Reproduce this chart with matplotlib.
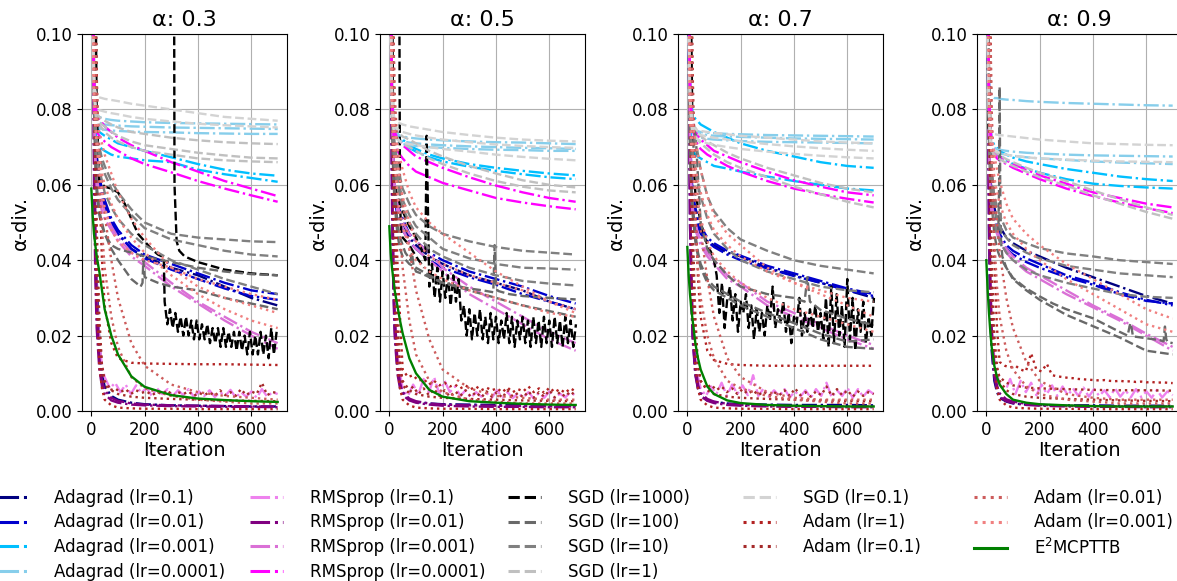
import numpy as np
import matplotlib.pyplot as plt
from matplotlib.lines import Line2D

# === data (alpha-divergence vs iteration) ===
alphas = [0.3, 0.5, 0.7, 0.9]
iters = [0, 5, 10, 15, 20, 30, 40, 50, 75, 100, 150, 200, 300, 400, 500, 600, 699]

# noisy stretches: a few early points, then evenly spaced samples up to the end
head_x = [0, 5, 10, 20, 30, 40]
tail_x = list(np.linspace(50, 699, 34))

# each setting: one entry per alpha panel, each a list of runs
adagrad_1e1 = [
    [[0.30, 0.15, 0.09, 0.075, 0.068, 0.062, 0.058, 0.055, 0.050, 0.047, 0.043, 0.041, 0.038, 0.036, 0.033, 0.030, 0.028],
     [0.30, 0.15, 0.08, 0.05, 0.035, 0.018, 0.010, 0.0065, 0.004, 0.003, 0.0022, 0.0018, 0.0015, 0.0014, 0.0013, 0.0012, 0.0012]],
    [[0.30, 0.13, 0.08, 0.065, 0.058, 0.054, 0.052, 0.050, 0.046, 0.044, 0.041, 0.039, 0.036, 0.034, 0.032, 0.029, 0.027],
     [0.30, 0.12, 0.06, 0.035, 0.022, 0.012, 0.007, 0.005, 0.003, 0.0024, 0.002, 0.0018, 0.0017, 0.0016, 0.0016, 0.0015, 0.0015]],
    [[0.30, 0.12, 0.075, 0.062, 0.057, 0.053, 0.050, 0.048, 0.045, 0.044, 0.042, 0.041, 0.038, 0.036, 0.034, 0.032, 0.030],
     [0.30, 0.10, 0.05, 0.03, 0.02, 0.010, 0.006, 0.004, 0.0028, 0.0024, 0.002, 0.0018, 0.0017, 0.0016, 0.0016, 0.0016, 0.0015]],
    [[0.30, 0.12, 0.07, 0.062, 0.058, 0.054, 0.051, 0.049, 0.046, 0.0445, 0.0425, 0.041, 0.038, 0.0355, 0.033, 0.0305, 0.0285],
     [0.30, 0.10, 0.045, 0.025, 0.016, 0.008, 0.005, 0.0035, 0.0025, 0.002, 0.0017, 0.0016, 0.0015, 0.0015, 0.0014, 0.0014, 0.0014]],
]
adagrad_1e2 = [
    [[0.30, 0.14, 0.085, 0.072, 0.066, 0.062, 0.059, 0.056, 0.051, 0.048, 0.044, 0.0415, 0.039, 0.0365, 0.034, 0.032, 0.031],
     [0.30, 0.14, 0.082, 0.07, 0.064, 0.060, 0.057, 0.054, 0.050, 0.047, 0.043, 0.0405, 0.0375, 0.035, 0.0325, 0.0305, 0.0295]],
    [[0.30, 0.13, 0.08, 0.066, 0.059, 0.055, 0.053, 0.051, 0.047, 0.045, 0.042, 0.040, 0.037, 0.035, 0.033, 0.0305, 0.0285],
     [0.30, 0.12, 0.075, 0.062, 0.056, 0.052, 0.050, 0.048, 0.045, 0.043, 0.040, 0.038, 0.0355, 0.0335, 0.031, 0.029, 0.027]],
    [[0.30, 0.12, 0.076, 0.063, 0.058, 0.054, 0.051, 0.049, 0.046, 0.0445, 0.0425, 0.0412, 0.0385, 0.0365, 0.0345, 0.0325, 0.031],
     [0.30, 0.12, 0.072, 0.06, 0.055, 0.052, 0.049, 0.047, 0.045, 0.0435, 0.0415, 0.040, 0.0378, 0.0358, 0.034, 0.032, 0.0305]],
    [[0.30, 0.12, 0.07, 0.06, 0.056, 0.052, 0.049, 0.047, 0.044, 0.0425, 0.0405, 0.039, 0.036, 0.034, 0.0315, 0.0295, 0.028],
     [0.30, 0.12, 0.068, 0.059, 0.055, 0.051, 0.048, 0.046, 0.043, 0.0415, 0.0395, 0.038, 0.0355, 0.0335, 0.031, 0.0292, 0.0285]],
]
adagrad_1e3 = [
    [[0.30, 0.12, 0.085, 0.079, 0.076, 0.074, 0.0735, 0.073, 0.072, 0.071, 0.070, 0.069, 0.0673, 0.0655, 0.064, 0.063, 0.0624],
     [0.30, 0.11, 0.08, 0.074, 0.072, 0.070, 0.0695, 0.069, 0.068, 0.0675, 0.067, 0.0665, 0.066, 0.064, 0.0628, 0.0618, 0.0608]],
    [[0.30, 0.12, 0.085, 0.078, 0.075, 0.0735, 0.0728, 0.072, 0.0705, 0.0695, 0.068, 0.067, 0.0655, 0.0645, 0.0637, 0.063, 0.0625],
     [0.30, 0.12, 0.083, 0.076, 0.074, 0.0725, 0.072, 0.0712, 0.0698, 0.0688, 0.0673, 0.0662, 0.0648, 0.0637, 0.0628, 0.062, 0.0615]],
    [[0.30, 0.12, 0.088, 0.082, 0.079, 0.0775, 0.0768, 0.076, 0.075, 0.074, 0.0725, 0.071, 0.069, 0.0675, 0.066, 0.065, 0.0645],
     [0.30, 0.10, 0.078, 0.072, 0.069, 0.068, 0.0675, 0.067, 0.066, 0.065, 0.0643, 0.0635, 0.0622, 0.061, 0.060, 0.059, 0.0585]],
    [[0.30, 0.12, 0.085, 0.076, 0.072, 0.0705, 0.0698, 0.069, 0.068, 0.0672, 0.0662, 0.0655, 0.0642, 0.0632, 0.0622, 0.0615, 0.061],
     [0.30, 0.11, 0.08, 0.072, 0.069, 0.0685, 0.068, 0.0675, 0.0665, 0.0655, 0.0643, 0.0632, 0.0615, 0.0603, 0.0597, 0.0593, 0.059]],
]
adagrad_1e4 = [
    [[0.30, 0.12, 0.09, 0.082, 0.079, 0.078, 0.0777, 0.0775, 0.0772, 0.077, 0.0768, 0.0766, 0.0764, 0.0763, 0.0762, 0.0761, 0.076],
     [0.30, 0.12, 0.088, 0.08, 0.0775, 0.0765, 0.0762, 0.076, 0.0758, 0.0757, 0.0755, 0.0754, 0.0752, 0.0751, 0.075, 0.0749, 0.0748],
     [0.30, 0.12, 0.086, 0.078, 0.076, 0.075, 0.0748, 0.0746, 0.0744, 0.0743, 0.0741, 0.074, 0.0739, 0.0737, 0.0736, 0.0735, 0.0735]],
    [[0.30, 0.12, 0.085, 0.078, 0.075, 0.0735, 0.073, 0.0728, 0.0725, 0.0723, 0.072, 0.0718, 0.0715, 0.0713, 0.0712, 0.071, 0.0708],
     [0.30, 0.12, 0.083, 0.076, 0.0735, 0.0722, 0.0718, 0.0715, 0.0712, 0.071, 0.0707, 0.0705, 0.0702, 0.070, 0.0698, 0.0697, 0.0695],
     [0.30, 0.12, 0.082, 0.075, 0.0725, 0.0715, 0.0711, 0.0708, 0.0705, 0.0703, 0.070, 0.0698, 0.0695, 0.0693, 0.0692, 0.069, 0.069]],
    [[0.30, 0.12, 0.085, 0.078, 0.0755, 0.0745, 0.0742, 0.074, 0.0738, 0.0737, 0.0735, 0.0734, 0.0732, 0.0731, 0.073, 0.0729, 0.0728],
     [0.30, 0.12, 0.083, 0.077, 0.0748, 0.074, 0.0737, 0.0735, 0.0732, 0.073, 0.0728, 0.0727, 0.0725, 0.0723, 0.0722, 0.0721, 0.072],
     [0.30, 0.12, 0.082, 0.076, 0.074, 0.073, 0.0727, 0.0725, 0.0722, 0.072, 0.0718, 0.0716, 0.0714, 0.0713, 0.0712, 0.0711, 0.071]],
    [[0.30, 0.10, 0.088, 0.085, 0.0835, 0.083, 0.083, 0.0828, 0.0826, 0.0825, 0.0822, 0.082, 0.0817, 0.0815, 0.0813, 0.0811, 0.081],
     [0.30, 0.10, 0.08, 0.073, 0.0705, 0.0698, 0.0695, 0.0693, 0.069, 0.0688, 0.0685, 0.0683, 0.068, 0.0678, 0.0677, 0.0676, 0.0675],
     [0.30, 0.10, 0.079, 0.072, 0.0695, 0.0688, 0.0685, 0.0683, 0.068, 0.0677, 0.0673, 0.067, 0.0666, 0.0662, 0.0659, 0.0657, 0.0655]],
]

rmsprop_1e1 = [
    [(head_x + tail_x, [0.30, 0.15, 0.07, 0.03, 0.018, 0.012] +
      [0.009, 0.006, 0.0075, 0.005, 0.007, 0.0045, 0.0068, 0.0048, 0.0062, 0.004, 0.006, 0.0045, 0.0058, 0.004, 0.0055, 0.0042, 0.0058,
       0.0038, 0.0052, 0.004, 0.0055, 0.0037, 0.005, 0.004, 0.0056, 0.0036, 0.005, 0.0038, 0.0052, 0.0035, 0.0058, 0.0038, 0.005, 0.0045])],
    [(head_x + tail_x, [0.30, 0.14, 0.06, 0.025, 0.015, 0.010] +
      [0.006, 0.004, 0.007, 0.0045, 0.0085, 0.005, 0.009, 0.0045, 0.008, 0.005, 0.0065, 0.004, 0.0055, 0.0035, 0.005, 0.0038, 0.0048,
       0.0035, 0.0055, 0.0036, 0.005, 0.0034, 0.0047, 0.0036, 0.005, 0.0033, 0.0048, 0.0035, 0.0052, 0.0034, 0.0046, 0.0036, 0.005, 0.004])],
    [(head_x + tail_x, [0.30, 0.12, 0.05, 0.022, 0.014, 0.009] +
      [0.006, 0.004, 0.0065, 0.0045, 0.0075, 0.004, 0.007, 0.0045, 0.0068, 0.0042, 0.0095, 0.004, 0.006, 0.0038, 0.0055, 0.004, 0.0058,
       0.0036, 0.0052, 0.0038, 0.0055, 0.0035, 0.0058, 0.004, 0.0075, 0.0036, 0.0055, 0.004, 0.0062, 0.0035, 0.0058, 0.0038, 0.0055, 0.0045])],
    [(head_x + tail_x, [0.30, 0.12, 0.05, 0.022, 0.014, 0.010] +
      [0.007, 0.005, 0.0085, 0.0045, 0.008, 0.005, 0.0075, 0.0042, 0.007, 0.0045, 0.0068, 0.004, 0.0065, 0.0042, 0.006, 0.004, 0.0062,
       0.0038, 0.0058, 0.004, 0.0055, 0.0036, 0.006, 0.0038, 0.0055, 0.0036, 0.0058, 0.0037, 0.0052, 0.0035, 0.0056, 0.0036, 0.0052, 0.0042])],
]
rmsprop_1e2 = [
    [[0.30, 0.12, 0.06, 0.035, 0.022, 0.011, 0.0065, 0.0045, 0.0028, 0.0022, 0.0017, 0.0015, 0.0013, 0.0012, 0.0011, 0.0011, 0.001],
     [0.30, 0.13, 0.07, 0.042, 0.028, 0.014, 0.008, 0.0055, 0.0035, 0.0027, 0.002, 0.0017, 0.0015, 0.0014, 0.0013, 0.0012, 0.0012]],
    [[0.30, 0.11, 0.055, 0.032, 0.02, 0.010, 0.006, 0.0042, 0.0028, 0.0022, 0.0017, 0.0014, 0.0012, 0.0011, 0.0011, 0.001, 0.001],
     [0.30, 0.12, 0.065, 0.04, 0.026, 0.013, 0.0075, 0.005, 0.0033, 0.0026, 0.002, 0.0017, 0.0015, 0.0014, 0.0013, 0.0012, 0.0012]],
    [[0.30, 0.11, 0.05, 0.03, 0.019, 0.0095, 0.0058, 0.004, 0.0027, 0.0021, 0.0016, 0.0014, 0.0012, 0.0011, 0.0011, 0.001, 0.001],
     [0.30, 0.12, 0.06, 0.037, 0.024, 0.012, 0.007, 0.0048, 0.0032, 0.0025, 0.0019, 0.0016, 0.0014, 0.0013, 0.0012, 0.0012, 0.0012]],
    [[0.30, 0.11, 0.05, 0.028, 0.018, 0.009, 0.0055, 0.0038, 0.0026, 0.0021, 0.0016, 0.0014, 0.0012, 0.0011, 0.0011, 0.001, 0.001],
     [0.30, 0.12, 0.058, 0.035, 0.022, 0.011, 0.0068, 0.0047, 0.0031, 0.0025, 0.0019, 0.0016, 0.0014, 0.0013, 0.0012, 0.0012, 0.0012]],
]
rmsprop_1e3 = [
    [[0.30, 0.14, 0.08, 0.068, 0.062, 0.058, 0.055, 0.053, 0.049, 0.046, 0.042, 0.0395, 0.034, 0.029, 0.025, 0.021, 0.018],
     [0.30, 0.13, 0.078, 0.066, 0.06, 0.056, 0.053, 0.051, 0.048, 0.045, 0.041, 0.0385, 0.033, 0.0285, 0.024, 0.020, 0.0165]],
    [[0.30, 0.13, 0.08, 0.065, 0.058, 0.053, 0.050, 0.048, 0.045, 0.043, 0.040, 0.037, 0.031, 0.027, 0.023, 0.019, 0.016],
     [0.30, 0.13, 0.082, 0.067, 0.06, 0.055, 0.052, 0.050, 0.047, 0.045, 0.042, 0.038, 0.033, 0.029, 0.025, 0.021, 0.018]],
    [[0.30, 0.12, 0.07, 0.058, 0.052, 0.048, 0.046, 0.044, 0.041, 0.039, 0.035, 0.033, 0.028, 0.025, 0.022, 0.019, 0.0165],
     [0.30, 0.12, 0.072, 0.06, 0.054, 0.05, 0.047, 0.045, 0.042, 0.040, 0.036, 0.034, 0.029, 0.026, 0.023, 0.020, 0.0175]],
    [[0.30, 0.12, 0.07, 0.058, 0.053, 0.049, 0.047, 0.045, 0.042, 0.040, 0.037, 0.035, 0.031, 0.0275, 0.024, 0.020, 0.016],
     [0.30, 0.12, 0.072, 0.06, 0.055, 0.051, 0.048, 0.046, 0.043, 0.041, 0.038, 0.036, 0.032, 0.028, 0.0245, 0.0205, 0.017]],
]
rmsprop_1e4 = [
    [[0.30, 0.12, 0.09, 0.082, 0.079, 0.0775, 0.0765, 0.0755, 0.074, 0.0725, 0.0705, 0.069, 0.066, 0.0635, 0.061, 0.059, 0.057],
     [0.30, 0.11, 0.08, 0.076, 0.074, 0.073, 0.0722, 0.0715, 0.070, 0.069, 0.067, 0.0655, 0.0633, 0.061, 0.059, 0.0572, 0.0555]],
    [[0.30, 0.12, 0.085, 0.077, 0.074, 0.0725, 0.0715, 0.0705, 0.069, 0.0675, 0.066, 0.0645, 0.062, 0.0598, 0.058, 0.0565, 0.0555],
     [0.30, 0.12, 0.083, 0.074, 0.071, 0.069, 0.068, 0.067, 0.065, 0.0635, 0.062, 0.0605, 0.0585, 0.0565, 0.0553, 0.0543, 0.0535]],
    [[0.30, 0.12, 0.088, 0.08, 0.077, 0.074, 0.073, 0.072, 0.0705, 0.069, 0.0675, 0.066, 0.0635, 0.0612, 0.0595, 0.058, 0.0572],
     [0.30, 0.12, 0.085, 0.078, 0.075, 0.072, 0.0705, 0.0695, 0.068, 0.067, 0.065, 0.0635, 0.061, 0.059, 0.0575, 0.0563, 0.0553]],
    [[0.30, 0.12, 0.085, 0.076, 0.071, 0.069, 0.068, 0.0675, 0.0665, 0.0655, 0.064, 0.0625, 0.0603, 0.058, 0.0565, 0.055, 0.054],
     [0.30, 0.12, 0.083, 0.074, 0.070, 0.068, 0.067, 0.0665, 0.0655, 0.0645, 0.063, 0.0615, 0.059, 0.057, 0.0553, 0.0538, 0.0525]],
]

sgd_1000_noise_a3 = [0.029, 0.023, 0.027, 0.022, 0.026, 0.021, 0.025, 0.020, 0.025, 0.020, 0.024, 0.019, 0.024, 0.019, 0.023,
                     0.019, 0.023, 0.018, 0.022, 0.018, 0.022, 0.017, 0.022, 0.017, 0.021, 0.017, 0.021, 0.016, 0.021, 0.016,
                     0.020, 0.015, 0.021, 0.015, 0.020, 0.015, 0.021, 0.015, 0.020, 0.014, 0.022, 0.015, 0.021]
sgd_1000_noise_a5 = [0.073, 0.033, 0.039, 0.030, 0.038, 0.029, 0.037, 0.030, 0.036, 0.028, 0.036, 0.029, 0.035, 0.024, 0.028,
                     0.020, 0.027, 0.019, 0.026, 0.020, 0.027, 0.019, 0.025, 0.018, 0.026, 0.019, 0.025, 0.018, 0.024, 0.019,
                     0.026, 0.018, 0.025, 0.017, 0.024, 0.019, 0.025, 0.018, 0.024, 0.017, 0.025, 0.018, 0.024, 0.017, 0.025,
                     0.018, 0.024, 0.017, 0.025, 0.018, 0.024, 0.017, 0.025, 0.018, 0.024, 0.017, 0.023]
sgd_1000_noise_a7 = [0.040, 0.036, 0.026, 0.034, 0.022, 0.030, 0.033, 0.024, 0.031, 0.021, 0.029, 0.026, 0.031, 0.022, 0.028,
                     0.019, 0.027, 0.021, 0.026, 0.020, 0.028, 0.024, 0.033, 0.022, 0.027, 0.024, 0.029, 0.021, 0.026, 0.018,
                     0.025, 0.023, 0.030, 0.020, 0.026, 0.021, 0.027, 0.022, 0.028, 0.021, 0.026, 0.019, 0.030, 0.017, 0.033,
                     0.018, 0.031, 0.020, 0.028, 0.017, 0.035, 0.019, 0.030, 0.016, 0.027, 0.021, 0.029, 0.018, 0.025, 0.020, 0.030]
sgd_1000 = [
    [([0, 5, 10, 15, 20, 30, 50, 75, 100, 125, 150, 175, 200, 225, 250, 265, 272] + list(np.linspace(275, 695, 43)),
      [0.30, 0.25, 0.20, 0.12, 0.08, 0.061, 0.0595, 0.059, 0.058, 0.055, 0.051, 0.047, 0.045, 0.043, 0.0415, 0.041, 0.040] + sgd_1000_noise_a3),
     ([0, 300, 308, 312, 320, 330, 350, 400, 500, 600, 699],
      [0.5, 0.5, 0.2, 0.06, 0.045, 0.0425, 0.041, 0.0395, 0.0375, 0.0365, 0.036])],
    [([0, 10, 12, 15, 20, 30, 50, 75, 100, 120, 135] + list(np.linspace(140, 700, 57)),
      [0.5, 0.5, 0.1, 0.065, 0.06, 0.057, 0.053, 0.049, 0.046, 0.043, 0.040] + sgd_1000_noise_a5),
     ([0, 36, 38, 40, 45, 50, 75, 100, 130],
      [0.5, 0.5, 0.1, 0.055, 0.047, 0.046, 0.044, 0.041, 0.038])],
    [([0, 10, 15, 20, 30, 50, 75, 90] + list(np.linspace(100, 700, 61)),
      [0.5, 0.3, 0.1, 0.07, 0.058, 0.05, 0.044, 0.042] + sgd_1000_noise_a7)],
    [([0, 5, 8, 10, 12, 15, 699], [0.30, 0.12, 0.075, 0.12, 0.30, 0.5, 0.5])],
]
sgd_100 = [
    [[0.30, 0.15, 0.08, 0.065, 0.058, 0.052, 0.049, 0.047, 0.044, 0.043, 0.042, 0.041, 0.0395, 0.038, 0.037, 0.0363, 0.036],
     ([0, 5, 10, 20, 30, 50, 75, 100, 150, 185, 192, 195, 200, 250, 300, 400, 500, 600, 699],
      [0.30, 0.15, 0.08, 0.06, 0.053, 0.047, 0.043, 0.040, 0.035, 0.033, 0.034, 0.040, 0.0355, 0.034, 0.033, 0.032, 0.030, 0.0285, 0.027])],
    [([0, 5, 10, 20, 30, 40, 50, 60, 70, 80, 85, 90, 95, 100, 120, 150, 200, 250, 300, 350, 390, 395, 400, 405, 410, 450, 500, 600, 699],
      [0.30, 0.12, 0.08, 0.06, 0.05, 0.046, 0.044, 0.042, 0.041, 0.040, 0.042, 0.039, 0.038, 0.037, 0.0365, 0.0355, 0.034, 0.0332,
       0.0325, 0.032, 0.0315, 0.044, 0.034, 0.032, 0.0318, 0.031, 0.0305, 0.0300, 0.0296]),
     [0.30, 0.12, 0.075, 0.062, 0.055, 0.047, 0.043, 0.041, 0.039, 0.038, 0.036, 0.034, 0.032, 0.030, 0.028, 0.0265, 0.025]],
    [([0, 5, 10, 15, 20, 30, 40, 50, 75, 100, 150, 200, 300, 400, 440, 450, 460, 500, 600, 699],
      [0.30, 0.12, 0.08, 0.07, 0.068, 0.075, 0.062, 0.050, 0.043, 0.040, 0.036, 0.033, 0.031, 0.030, 0.029, 0.0355, 0.029, 0.0268, 0.0245, 0.0228]),
     [0.30, 0.12, 0.07, 0.06, 0.055, 0.047, 0.042, 0.039, 0.035, 0.033, 0.031, 0.029, 0.026, 0.0233, 0.0205, 0.0184, 0.019],
     [0.30, 0.12, 0.068, 0.058, 0.052, 0.045, 0.041, 0.038, 0.034, 0.032, 0.030, 0.028, 0.025, 0.022, 0.019, 0.017, 0.0165]],
    [([0, 5, 10, 20, 30, 40, 45, 48, 50, 52, 55, 60, 75, 100, 150, 200, 250, 300, 400, 450, 500, 530, 540, 545, 550, 600, 650, 665, 670, 675, 680, 699],
      [0.30, 0.15, 0.09, 0.065, 0.055, 0.05, 0.048, 0.06, 0.086, 0.06, 0.045, 0.041, 0.038, 0.0353, 0.0325, 0.0304, 0.0285, 0.027, 0.0246,
       0.0228, 0.021, 0.020, 0.0233, 0.022, 0.0198, 0.0193, 0.0188, 0.0185, 0.0224, 0.019, 0.0183, 0.018]),
     [0.30, 0.12, 0.08, 0.062, 0.055, 0.047, 0.043, 0.041, 0.038, 0.035, 0.032, 0.0295, 0.0255, 0.0225, 0.0195, 0.016, 0.015]],
]
sgd_10 = [
    [[0.30, 0.15, 0.09, 0.078, 0.072, 0.070, 0.067, 0.065, 0.061, 0.058, 0.0535, 0.050, 0.047, 0.046, 0.0455, 0.045, 0.0448],
     [0.30, 0.15, 0.088, 0.076, 0.071, 0.068, 0.065, 0.063, 0.059, 0.056, 0.052, 0.0485, 0.0455, 0.044, 0.0425, 0.0415, 0.041],
     [0.30, 0.14, 0.085, 0.073, 0.068, 0.064, 0.061, 0.058, 0.054, 0.051, 0.047, 0.044, 0.040, 0.0375, 0.035, 0.033, 0.031]],
    [[0.30, 0.12, 0.085, 0.075, 0.071, 0.066, 0.062, 0.059, 0.055, 0.052, 0.049, 0.047, 0.045, 0.0435, 0.0425, 0.042, 0.0415],
     [0.30, 0.12, 0.082, 0.073, 0.068, 0.063, 0.059, 0.056, 0.052, 0.049, 0.046, 0.043, 0.0405, 0.039, 0.038, 0.0378, 0.0375],
     [0.30, 0.12, 0.08, 0.07, 0.065, 0.06, 0.057, 0.054, 0.050, 0.047, 0.043, 0.041, 0.038, 0.036, 0.0345, 0.0338, 0.0333]],
    [[0.30, 0.12, 0.085, 0.078, 0.075, 0.072, 0.068, 0.064, 0.057, 0.053, 0.0485, 0.0455, 0.0425, 0.040, 0.0385, 0.0375, 0.0365],
     [0.30, 0.12, 0.08, 0.072, 0.068, 0.064, 0.060, 0.057, 0.051, 0.047, 0.043, 0.040, 0.037, 0.035, 0.033, 0.032, 0.0315]],
    [[0.30, 0.12, 0.08, 0.068, 0.062, 0.057, 0.054, 0.052, 0.048, 0.046, 0.0445, 0.0432, 0.0418, 0.041, 0.040, 0.0395, 0.039],
     [0.30, 0.12, 0.078, 0.065, 0.059, 0.054, 0.051, 0.049, 0.046, 0.044, 0.042, 0.0405, 0.0385, 0.0375, 0.0365, 0.036, 0.0355],
     [0.30, 0.10, 0.07, 0.06, 0.055, 0.05, 0.047, 0.045, 0.042, 0.040, 0.0375, 0.036, 0.034, 0.0325, 0.031, 0.0303, 0.030]],
]
sgd_1 = [
    [[0.30, 0.12, 0.09, 0.082, 0.079, 0.078, 0.0775, 0.077, 0.076, 0.0752, 0.074, 0.0735, 0.0725, 0.0718, 0.0713, 0.071, 0.0708],
     [0.30, 0.12, 0.088, 0.08, 0.078, 0.077, 0.076, 0.0755, 0.074, 0.073, 0.0715, 0.0705, 0.0695, 0.0685, 0.0678, 0.0672, 0.067],
     [0.30, 0.12, 0.086, 0.079, 0.077, 0.076, 0.075, 0.074, 0.0725, 0.0715, 0.070, 0.069, 0.068, 0.067, 0.0665, 0.0662, 0.066]],
    [[0.30, 0.12, 0.085, 0.078, 0.076, 0.0745, 0.0735, 0.0728, 0.072, 0.071, 0.069, 0.0675, 0.065, 0.063, 0.0612, 0.060, 0.0593],
     [0.30, 0.12, 0.083, 0.076, 0.074, 0.0725, 0.0715, 0.0708, 0.070, 0.069, 0.067, 0.0655, 0.063, 0.061, 0.0595, 0.0585, 0.058]],
    [[0.30, 0.12, 0.086, 0.08, 0.077, 0.075, 0.074, 0.073, 0.0715, 0.0705, 0.0685, 0.067, 0.0645, 0.0625, 0.0605, 0.059, 0.058],
     [0.30, 0.12, 0.085, 0.078, 0.075, 0.073, 0.072, 0.071, 0.0695, 0.068, 0.066, 0.0645, 0.062, 0.0595, 0.0575, 0.0555, 0.054]],
    [[0.30, 0.10, 0.08, 0.072, 0.070, 0.069, 0.0683, 0.0678, 0.0668, 0.066, 0.0645, 0.0632, 0.061, 0.0585, 0.0562, 0.054, 0.052],
     [0.30, 0.10, 0.079, 0.071, 0.069, 0.068, 0.0673, 0.0668, 0.0658, 0.065, 0.0635, 0.062, 0.0598, 0.0572, 0.055, 0.0528, 0.051]],
]
sgd_01 = [
    [[0.30, 0.10, 0.088, 0.085, 0.0835, 0.0832, 0.083, 0.0828, 0.0825, 0.0822, 0.0815, 0.081, 0.080, 0.079, 0.078, 0.0775, 0.077],
     [0.30, 0.10, 0.085, 0.081, 0.080, 0.0798, 0.0796, 0.0794, 0.079, 0.0787, 0.078, 0.0775, 0.0768, 0.0762, 0.0758, 0.0755, 0.0752]],
    [[0.30, 0.10, 0.085, 0.079, 0.0775, 0.0768, 0.0763, 0.076, 0.0755, 0.0752, 0.0746, 0.074, 0.0732, 0.0725, 0.072, 0.0717, 0.0715],
     [0.30, 0.10, 0.082, 0.077, 0.0755, 0.0748, 0.0743, 0.074, 0.0735, 0.0731, 0.0725, 0.072, 0.0713, 0.0707, 0.0703, 0.070, 0.0698],
     [0.30, 0.10, 0.08, 0.075, 0.073, 0.072, 0.0715, 0.0712, 0.0708, 0.0705, 0.070, 0.0695, 0.0688, 0.068, 0.0674, 0.0669, 0.0665]],
    [[0.30, 0.10, 0.085, 0.078, 0.0755, 0.0748, 0.0745, 0.0743, 0.074, 0.0738, 0.0734, 0.073, 0.0725, 0.072, 0.0715, 0.0712, 0.071],
     [0.30, 0.10, 0.083, 0.077, 0.0745, 0.0738, 0.0735, 0.0732, 0.0728, 0.0725, 0.072, 0.0715, 0.0708, 0.0702, 0.0697, 0.0693, 0.069],
     [0.30, 0.10, 0.082, 0.076, 0.0735, 0.0725, 0.072, 0.0716, 0.071, 0.0706, 0.070, 0.0695, 0.0688, 0.0682, 0.0677, 0.0673, 0.067]],
    [[0.30, 0.10, 0.08, 0.075, 0.0738, 0.0735, 0.0733, 0.0732, 0.073, 0.0728, 0.0724, 0.072, 0.0715, 0.071, 0.0708, 0.0706, 0.0705],
     [0.30, 0.10, 0.078, 0.072, 0.070, 0.069, 0.0688, 0.0685, 0.068, 0.0677, 0.0673, 0.067, 0.0667, 0.0664, 0.0662, 0.0661, 0.066]],
]

adam_bottom = [0.30, 0.20, 0.10, 0.05, 0.03, 0.012, 0.006, 0.003, 0.0015, 0.0009, 0.0007, 0.0006, 0.0006, 0.0005, 0.0005, 0.0005, 0.0005]
adam_1 = [
    [[0.30, 0.25, 0.18, 0.12, 0.09, 0.06, 0.04, 0.028, 0.018, 0.014, 0.0128, 0.0126, 0.0125, 0.0124, 0.0124, 0.0123, 0.0122],
     adam_bottom],
    [(head_x + tail_x, [0.30, 0.22, 0.15, 0.07, 0.04, 0.025] +
      [0.011, 0.009, 0.0095, 0.008, 0.0085, 0.007, 0.008, 0.0068, 0.0075, 0.0065, 0.007, 0.006, 0.0068, 0.0058, 0.0065, 0.0055, 0.0062,
       0.0055, 0.006, 0.005, 0.0062, 0.005, 0.0058, 0.0052, 0.0065, 0.005, 0.006, 0.0048, 0.0062, 0.005, 0.0058, 0.0048, 0.006, 0.0052]),
     adam_bottom],
    [[0.30, 0.25, 0.18, 0.12, 0.09, 0.055, 0.035, 0.025, 0.016, 0.0135, 0.0125, 0.0122, 0.012, 0.012, 0.012, 0.012, 0.012],
     adam_bottom],
    [(head_x + tail_x, [0.30, 0.22, 0.15, 0.07, 0.04, 0.022] +
      [0.013, 0.012, 0.0115, 0.012, 0.011, 0.0105, 0.0153, 0.011, 0.0105, 0.0125, 0.0095, 0.0092, 0.009, 0.0088, 0.0087, 0.0085, 0.0084,
       0.0083, 0.0082, 0.0081, 0.0082, 0.008, 0.0079, 0.008, 0.0078, 0.0079, 0.0077, 0.0078, 0.0076, 0.0077, 0.0075, 0.0076, 0.0075, 0.0074]),
     adam_bottom],
]
adam_smooth = [0.30, 0.20, 0.10, 0.06, 0.04, 0.02, 0.012, 0.008, 0.0055, 0.0045, 0.0038, 0.0035, 0.0032, 0.003, 0.0028, 0.0027, 0.0026]
adam_1e1 = [
    [(head_x + tail_x, [0.30, 0.20, 0.12, 0.05, 0.025, 0.012] +
      [0.007, 0.0055, 0.006, 0.005, 0.0058, 0.0045, 0.0055, 0.0048, 0.0052, 0.0042, 0.005, 0.0045, 0.0055, 0.004, 0.005, 0.0045, 0.0052,
       0.004, 0.0048, 0.0042, 0.005, 0.004, 0.0055, 0.0042, 0.005, 0.004, 0.0058, 0.0042, 0.0052, 0.0045, 0.0075, 0.0042, 0.005, 0.0048]),
     adam_smooth],
    [(head_x + tail_x, [0.30, 0.20, 0.12, 0.05, 0.025, 0.012] +
      [0.007, 0.005, 0.0065, 0.0045, 0.006, 0.0042, 0.0058, 0.004, 0.0055, 0.0038, 0.0052, 0.004, 0.0055, 0.0038, 0.005, 0.0036, 0.0052,
       0.0038, 0.005, 0.0035, 0.0055, 0.0038, 0.0048, 0.0036, 0.0052, 0.0035, 0.005, 0.0038, 0.0055, 0.0036, 0.005, 0.0038, 0.0052, 0.004]),
     adam_smooth],
    [(head_x + tail_x, [0.30, 0.20, 0.12, 0.05, 0.025, 0.012] +
      [0.008, 0.006, 0.007, 0.0055, 0.0065, 0.005, 0.006, 0.0045, 0.0058, 0.0045, 0.0055, 0.0042, 0.0052, 0.004, 0.005, 0.0042, 0.0055,
       0.004, 0.006, 0.0042, 0.005, 0.0038, 0.0052, 0.0042, 0.0065, 0.004, 0.0058, 0.0042, 0.0055, 0.0038, 0.0052, 0.004, 0.005, 0.0045]),
     adam_smooth],
    [[0.30, 0.20, 0.10, 0.05, 0.03, 0.016, 0.011, 0.009, 0.0075, 0.0068, 0.0062, 0.006, 0.0058, 0.0056, 0.0055, 0.0055, 0.0054],
     adam_smooth],
]
adam_1e2 = [
    [[0.30, 0.20, 0.12, 0.09, 0.075, 0.06, 0.048, 0.038, 0.025, 0.017, 0.009, 0.006, 0.004, 0.003, 0.0025, 0.002, 0.002],
     [0.30, 0.20, 0.13, 0.10, 0.085, 0.07, 0.06, 0.052, 0.04, 0.03, 0.018, 0.012, 0.007, 0.005, 0.004, 0.0035, 0.003]],
    [[0.30, 0.20, 0.12, 0.09, 0.075, 0.058, 0.047, 0.038, 0.024, 0.015, 0.008, 0.005, 0.003, 0.0025, 0.002, 0.002, 0.002],
     [0.30, 0.20, 0.13, 0.10, 0.085, 0.07, 0.062, 0.055, 0.043, 0.032, 0.019, 0.011, 0.006, 0.004, 0.0035, 0.003, 0.003]],
    [[0.30, 0.20, 0.12, 0.09, 0.07, 0.05, 0.038, 0.03, 0.02, 0.014, 0.008, 0.006, 0.004, 0.003, 0.0025, 0.002, 0.002],
     [0.30, 0.20, 0.13, 0.10, 0.082, 0.066, 0.056, 0.048, 0.035, 0.025, 0.014, 0.009, 0.005, 0.0035, 0.003, 0.003, 0.003]],
    [[0.30, 0.20, 0.12, 0.085, 0.065, 0.045, 0.033, 0.025, 0.016, 0.011, 0.0065, 0.0045, 0.003, 0.0025, 0.002, 0.002, 0.002],
     [0.30, 0.20, 0.13, 0.10, 0.08, 0.06, 0.05, 0.042, 0.03, 0.022, 0.013, 0.008, 0.0045, 0.0035, 0.003, 0.003, 0.003]],
]
adam_1e3 = [
    [[0.30, 0.12, 0.085, 0.08, 0.077, 0.074, 0.071, 0.068, 0.063, 0.058, 0.051, 0.046, 0.038, 0.033, 0.030, 0.028, 0.026],
     [0.30, 0.12, 0.082, 0.076, 0.072, 0.067, 0.063, 0.060, 0.055, 0.051, 0.046, 0.042, 0.036, 0.031, 0.027, 0.024, 0.022],
     [0.30, 0.11, 0.08, 0.075, 0.07, 0.064, 0.058, 0.054, 0.048, 0.045, 0.042, 0.040, 0.038, 0.035, 0.033, 0.031, 0.0295]],
    [[0.30, 0.12, 0.085, 0.078, 0.074, 0.070, 0.067, 0.064, 0.058, 0.054, 0.050, 0.047, 0.042, 0.037, 0.033, 0.029, 0.026],
     [0.30, 0.11, 0.08, 0.074, 0.070, 0.065, 0.061, 0.057, 0.050, 0.045, 0.041, 0.039, 0.036, 0.034, 0.032, 0.029, 0.027],
     [0.30, 0.11, 0.078, 0.07, 0.065, 0.058, 0.053, 0.049, 0.043, 0.040, 0.037, 0.035, 0.032, 0.030, 0.028, 0.026, 0.025]],
    [[0.30, 0.12, 0.085, 0.08, 0.076, 0.072, 0.068, 0.064, 0.057, 0.052, 0.047, 0.044, 0.038, 0.034, 0.031, 0.028, 0.025],
     [0.30, 0.11, 0.08, 0.074, 0.07, 0.065, 0.061, 0.058, 0.052, 0.048, 0.044, 0.041, 0.037, 0.034, 0.032, 0.030, 0.029],
     [0.30, 0.11, 0.078, 0.07, 0.065, 0.059, 0.055, 0.051, 0.045, 0.041, 0.037, 0.034, 0.030, 0.027, 0.025, 0.023, 0.021]],
    [[0.30, 0.12, 0.085, 0.078, 0.073, 0.068, 0.064, 0.061, 0.055, 0.051, 0.047, 0.044, 0.039, 0.035, 0.031, 0.027, 0.0245],
     [0.30, 0.11, 0.08, 0.072, 0.067, 0.062, 0.058, 0.055, 0.050, 0.047, 0.043, 0.040, 0.035, 0.031, 0.027, 0.023, 0.021]],
]
e2mcpttb = [
    [[0.059, 0.052, 0.047, 0.044, 0.041, 0.037, 0.032, 0.027, 0.020, 0.015, 0.0092, 0.0064, 0.0042, 0.0033, 0.0029, 0.0026, 0.0024]],
    [[0.049, 0.042, 0.038, 0.035, 0.032, 0.028, 0.024, 0.0206, 0.014, 0.010, 0.0056, 0.0038, 0.0026, 0.0022, 0.0019, 0.0017, 0.0016]],
    [[0.0435, 0.036, 0.031, 0.027, 0.024, 0.018, 0.014, 0.011, 0.0065, 0.0045, 0.0028, 0.0021, 0.0016, 0.0014, 0.0013, 0.0012, 0.0012]],
    [[0.040, 0.032, 0.026, 0.021, 0.017, 0.012, 0.009, 0.007, 0.0045, 0.003, 0.0022, 0.0018, 0.0015, 0.0013, 0.0012, 0.0012, 0.0012]],
]

# (label, runs, colour, linestyle) in legend order
series = [
    ("Adagrad (lr=0.1)", adagrad_1e1, "navy", "-."),
    ("Adagrad (lr=0.01)", adagrad_1e2, "mediumblue", "-."),
    ("Adagrad (lr=0.001)", adagrad_1e3, "deepskyblue", "-."),
    ("Adagrad (lr=0.0001)", adagrad_1e4, "skyblue", "-."),
    ("RMSprop (lr=0.1)", rmsprop_1e1, "violet", "-."),
    ("RMSprop (lr=0.01)", rmsprop_1e2, "purple", "-."),
    ("RMSprop (lr=0.001)", rmsprop_1e3, "orchid", "-."),
    ("RMSprop (lr=0.0001)", rmsprop_1e4, "magenta", "-."),
    ("SGD (lr=1000)", sgd_1000, "black", "--"),
    ("SGD (lr=100)", sgd_100, "dimgray", "--"),
    ("SGD (lr=10)", sgd_10, "gray", "--"),
    ("SGD (lr=1)", sgd_1, "silver", "--"),
    ("SGD (lr=0.1)", sgd_01, "lightgray", "--"),
    ("Adam (lr=1)", adam_1, "firebrick", ":"),
    ("Adam (lr=0.1)", adam_1e1, "brown", ":"),
    ("Adam (lr=0.01)", adam_1e2, "indianred", ":"),
    ("Adam (lr=0.001)", adam_1e3, "lightcoral", ":"),
    (r"E$^2$MCPTTB", e2mcpttb, "green", "-"),
]

# === figure ===
W, H = 1177, 581
fig = plt.figure(figsize=(W / 100, H / 100), dpi=100)
lefts = [82, 380, 678, 977]
ax_w, ax_top, ax_bot = 205, 34, 411

for k, a in enumerate(alphas):
    ax = fig.add_axes([lefts[k] / W, (H - ax_bot) / H, ax_w / W, (ax_bot - ax_top) / H])
    for label, runs, color, ls in series:
        for run in runs[k]:
            if isinstance(run, tuple):
                x, y = run
            else:
                x, y = iters, run
            ax.plot(x, y, color=color, ls=ls, lw=1.7)
    ax.set_ylim(0, 0.1)
    ax.set_xlim(-35, 734)
    ax.set_xticks([0, 200, 400, 600])
    ax.set_yticks([0.0, 0.02, 0.04, 0.06, 0.08, 0.10])
    ax.set_yticklabels(["0.00", "0.02", "0.04", "0.06", "0.08", "0.10"])
    ax.tick_params(labelsize=12)
    ax.grid(True)
    ax.set_title(f"α: {a}", fontsize=16)
    ax.set_xlabel("Iteration", fontsize=14, labelpad=2)
    ax.set_ylabel("α-div.", fontsize=14)

# legend: five columns placed where the reference has them
col_sizes = [4, 4, 4, 3, 3]
col_x = [-6, 250, 508, 743, 974]
start = 0
for n, cx in zip(col_sizes, col_x):
    chunk = series[start:start + n]
    start += n
    hs = [Line2D([], [], color=c, ls=ls, lw=2.2) for _, _, c, ls in chunk]
    fig.legend(hs, [s[0] for s in chunk], loc="upper left",
               bbox_to_anchor=((cx - 7) / W, (H - 482) / H), frameon=False, fontsize=12,
               handlelength=2.0, handletextpad=1.6, labelspacing=0.40, borderaxespad=0)

fig.savefig("out.png", dpi=100)
